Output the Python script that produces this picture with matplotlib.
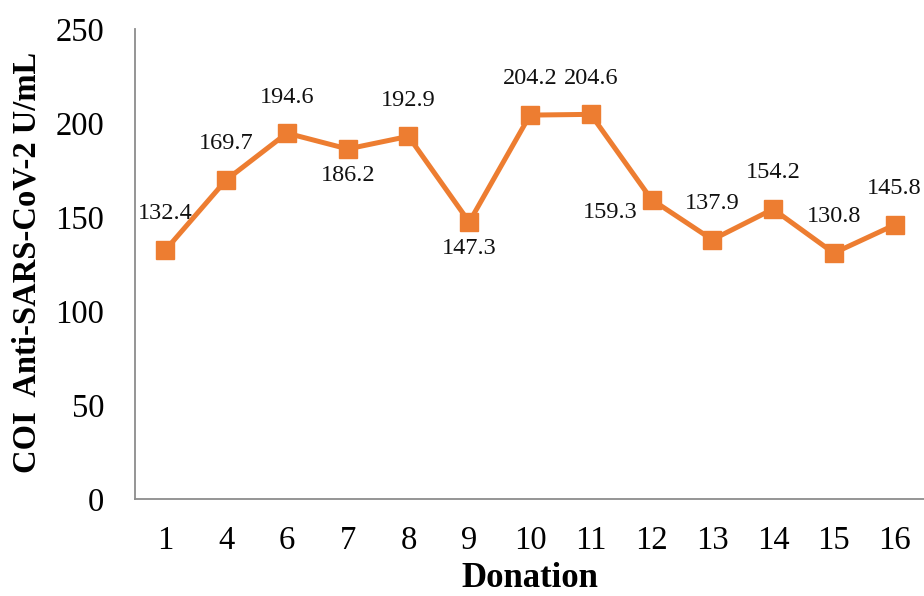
import matplotlib
matplotlib.use("Agg")
import matplotlib.pyplot as plt

donations = ["1", "4", "6", "7", "8", "9", "10", "11", "12", "13", "14", "15", "16"]
coi_values = [132.4, 169.7, 194.6, 186.2, 192.9, 147.3, 204.2, 204.6, 159.3, 137.9, 154.2, 130.8, 145.8]
label_place = ["above", "above", "above", "below", "above", "below", "above", "above",
               "left", "above", "above", "above", "above"]
yticks = [0, 50, 100, 150, 200, 250]

offsets = {"above": (0, 26), "below": (0, -19), "left": (-30, -9)}

fig = plt.figure(figsize=(9.24, 5.96), dpi=100)
ax = fig.add_axes([135/924, 1-499/596, 790/924, 470/596])

x = list(range(len(donations)))
ax.plot(x, coi_values, color="#ED7D31", linewidth=3.6, marker="s", markersize=13.5,
        markerfacecolor="#ED7D31", markeredgecolor="#ED7D31", zorder=3, clip_on=False)

for xi, v, p in zip(x, coi_values, label_place):
    dx, dy = offsets[p]
    ax.annotate(f"{v:.1f}", (xi, v), xytext=(dx, dy), textcoords="offset points",
                ha="center", va="center", fontsize=17.5, family="Liberation Serif",
                color="#111111")

ax.set_xlim(-0.5, len(donations) - 0.5)
ax.set_ylim(0, 250)
ax.set_xticks(x)
ax.set_xticklabels(donations)
ax.set_yticks(yticks)
ax.tick_params(axis="both", length=0, labelsize=23.5)
ax.tick_params(axis="y", pad=22)
ax.tick_params(axis="x", pad=19)
for lab in ax.get_xticklabels() + ax.get_yticklabels():
    lab.set_family("Liberation Serif")

for s in ["top", "right"]:
    ax.spines[s].set_visible(False)
for s in ["left", "bottom"]:
    ax.spines[s].set_color("#8c8c8c")
    ax.spines[s].set_linewidth(1.3)

fig.text(27/924, 1-262/596, "COI  Anti-SARS-CoV-2 U/mL", rotation=90, ha="center", va="center",
         fontsize=23.5, fontweight="bold", family="Liberation Serif")
fig.text(530/924, 0.001, "Donation", ha="center", va="bottom",
         fontsize=25, fontweight="bold", family="Liberation Serif")

fig.savefig("out.png", dpi=100)
